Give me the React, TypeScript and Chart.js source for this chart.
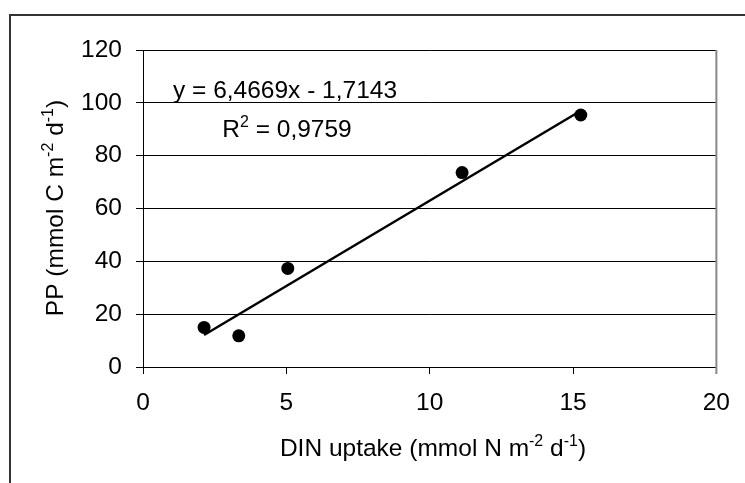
import React, { useEffect, useRef } from "react";
import { Chart, registerables } from "chart.js";

Chart.register(...registerables);

const dinUptake = [2.13, 3.34, 5.05, 11.13, 15.27];
const ppValues = [15.0, 11.8, 37.3, 73.6, 95.4];
const trendX = [2.13, 15.27];
const trendY = [12.1, 97.0];
const xTicks = [0, 5, 10, 15, 20];
const yTicks = [0, 20, 40, 60, 80, 100, 120];
const equationText = "y = 6,4669x - 1,7143";
const r2Label = "R";
const r2Sup = "2";
const r2Value = " = 0,9759";
const xTitleParts = [
  { t: "DIN uptake (mmol N m", sup: false },
  { t: "-2", sup: true },
  { t: " d", sup: false },
  { t: "-1", sup: true },
  { t: ")", sup: false },
];
const yTitleParts = [
  { t: "PP (mmol C m", sup: false },
  { t: "-2", sup: true },
  { t: " d", sup: false },
  { t: "-1", sup: true },
  { t: ")", sup: false },
];

const FAMILY = "'Liberation Sans', Arial, sans-serif";
const FS = 24.5;

type Part = { t: string; sup: boolean };

function drawRich(ctx: CanvasRenderingContext2D, parts: Part[], cx: number, baseline: number) {
  const main = `${FS}px ${FAMILY}`;
  const small = `${Math.round(FS * 0.66)}px ${FAMILY}`;
  let total = 0;
  const widths = parts.map((p) => {
    ctx.font = p.sup ? small : main;
    const w = ctx.measureText(p.t).width;
    total += w;
    return w;
  });
  let x = cx - total / 2;
  ctx.textAlign = "left";
  ctx.textBaseline = "alphabetic";
  parts.forEach((p, i) => {
    ctx.font = p.sup ? small : main;
    ctx.fillText(p.t, x, p.sup ? baseline - FS * 0.42 : baseline);
    x += widths[i];
  });
}

const decorPlugin = {
  id: "decor",
  afterDraw(chart: any) {
    const ctx: CanvasRenderingContext2D = chart.ctx;
    const area = chart.chartArea;
    ctx.save();
    // outer frame
    ctx.strokeStyle = "#333";
    ctx.lineWidth = 2;
    ctx.beginPath();
    ctx.moveTo(10, 490);
    ctx.lineTo(10, 15);
    ctx.lineTo(760, 15);
    ctx.stroke();
    // right plot border
    ctx.strokeStyle = "#888";
    ctx.lineWidth = 2;
    ctx.beginPath();
    ctx.moveTo(area.right, area.top);
    ctx.lineTo(area.right, area.bottom + 7);
    ctx.stroke();

    ctx.fillStyle = "#000";
    // equation
    ctx.font = `${FS}px ${FAMILY}`;
    ctx.textAlign = "center";
    ctx.textBaseline = "alphabetic";
    ctx.fillText(equationText, 285, 98);
    drawRich(
      ctx,
      [
        { t: r2Label, sup: false },
        { t: r2Sup, sup: true },
        { t: r2Value, sup: false },
      ],
      287,
      137
    );
    // x title
    drawRich(ctx, xTitleParts, 433, 456);
    // y title
    ctx.save();
    ctx.translate(63, 208);
    ctx.rotate(-Math.PI / 2);
    drawRich(ctx, yTitleParts, 0, 0);
    ctx.restore();
    ctx.restore();
  },
};

export default function App() {
  const ref = useRef<HTMLCanvasElement | null>(null);
  useEffect(() => {
    if (!ref.current) return;
    const chart = new Chart(ref.current, {
      type: "scatter",
      data: {
        datasets: [
          {
            type: "line",
            data: trendX.map((x, i) => ({ x, y: trendY[i] })),
            borderColor: "#000",
            borderWidth: 2.5,
            pointRadius: 0,
            showLine: true,
            fill: false,
          } as any,
          {
            type: "scatter",
            data: dinUptake.map((x, i) => ({ x, y: ppValues[i] })),
            backgroundColor: "#000",
            borderColor: "#000",
            borderWidth: 0,
            pointRadius: 6.5,
          },
        ],
      },
      options: {
        animation: false,
        responsive: false,
        devicePixelRatio: 1,
        layout: { padding: { top: 50, right: 22, left: 0, bottom: 0 } },
        plugins: { legend: { display: false }, tooltip: { enabled: false } },
        scales: {
          x: {
            type: "linear",
            min: xTicks[0],
            max: xTicks[xTicks.length - 1],
            afterFit: (s: any) => {
              s.height = 116;
            },
            afterBuildTicks: (s: any) => {
              s.ticks = xTicks.map((v) => ({ value: v }));
            },
            ticks: {
              color: "#000",
              font: { family: FAMILY, size: FS },
              padding: 15,
              maxRotation: 0,
            },
            grid: {
              drawOnChartArea: false,
              drawTicks: true,
              tickLength: 7,
              color: "#000",
            },
            border: { color: "#000", width: 1 },
          },
          y: {
            type: "linear",
            min: yTicks[0],
            max: yTicks[yTicks.length - 1],
            afterFit: (s: any) => {
              s.width = 143;
            },
            afterBuildTicks: (s: any) => {
              s.ticks = yTicks.map((v) => ({ value: v }));
            },
            ticks: {
              color: "#000",
              font: { family: FAMILY, size: FS },
              padding: 14,
            },
            grid: {
              drawTicks: true,
              tickLength: 7,
              color: "#000",
              lineWidth: 1,
            },
            border: { color: "#000", width: 1 },
          },
        },
      },
      plugins: [decorPlugin],
    });
    return () => chart.destroy();
  }, []);
  return (
    <canvas
      ref={ref}
      width={745}
      height={483}
      style={{ position: "absolute", left: 0, top: 0, display: "block", background: "#fff" }}
    />
  );
}
